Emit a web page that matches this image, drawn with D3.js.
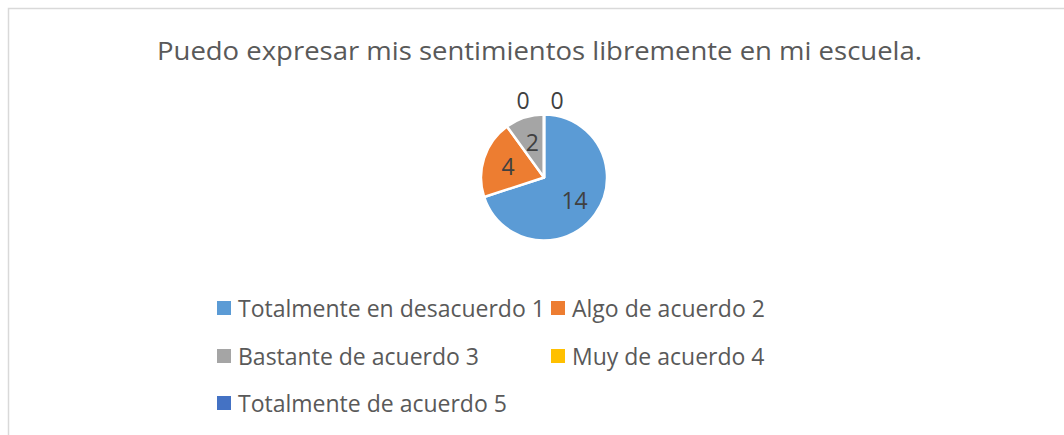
<!DOCTYPE html>
<html>
<head>
<meta charset="utf-8">
<script src="https://cdn.jsdelivr.net/npm/d3@7"></script>
<style>
  body { margin: 0; background: #fff; }
  text { font-family: "Open Sans", "Noto Sans", sans-serif; }
</style>
</head>
<body>
<div class="canvas"></div>
<script>
const title = "Puedo expresar mis sentimientos libremente en mi escuela.";
const categories = [
  "Totalmente en desacuerdo 1",
  "Algo de acuerdo 2",
  "Bastante de acuerdo 3",
  "Muy de acuerdo 4",
  "Totalmente de acuerdo 5"
];
const values = [14, 4, 2, 0, 0];
const colors = ["#5b9bd5", "#ed7d31", "#a5a5a5", "#ffc000", "#4472c4"];

const width = 1064;
const height = 435;

const svg = d3
  .select(".canvas")
  .append("svg")
  .attr("width", width)
  .attr("height", height);

// chart frame
svg
  .append("rect")
  .attr("x", 8.5)
  .attr("y", 8.5)
  .attr("width", width + 20)
  .attr("height", height + 20)
  .attr("fill", "none")
  .attr("stroke", "#d9d9d9")
  .attr("stroke-width", 1.5);

// title
svg
  .append("text")
  .attr("x", 539.5)
  .attr("y", 60)
  .attr("text-anchor", "middle")
  .attr("font-size", 25)
  .attr("fill", "#595959")
  .attr("textLength", 765)
  .attr("lengthAdjust", "spacingAndGlyphs")
  .text(title);

// pie
const radius = 63;
const graph = svg.append("g").attr("transform", "translate(544, 177.5)");

const pie = d3.pie().sort(null).value((d) => d.value);
const arc = d3.arc().innerRadius(0).outerRadius(radius);
const labelArc = d3.arc().innerRadius(radius * 0.6).outerRadius(radius * 0.6);

const data = categories.map((c, i) => ({ name: c, value: values[i], color: colors[i] }));
const arcs = pie(data);

graph
  .selectAll("path")
  .data(arcs)
  .enter()
  .append("path")
  .attr("d", arc)
  .attr("fill", (d) => d.data.color)
  .attr("stroke", "#fff")
  .attr("stroke-width", 2.5)
  .attr("stroke-linejoin", "round");

// data labels
let zeroCount = 0;
graph
  .selectAll("text.label")
  .data(arcs)
  .enter()
  .append("text")
  .attr("class", "label")
  .attr("text-anchor", "middle")
  .attr("dominant-baseline", "central")
  .attr("font-size", 23)
  .attr("fill", "#404040")
  .attr("transform", (d) => {
    if (d.value > 0) return `translate(${labelArc.centroid(d)})`;
    // zero slices sit at the top, pushed outside and apart
    const a = d.startAngle;
    const r = radius + 15;
    const shift = zeroCount++ === 0 ? -21 : 13;
    return `translate(${Math.sin(a) * r + shift}, ${-Math.cos(a) * r})`;
  })
  .text((d) => d.value);

// legend
const legendX = [217, 551];
const legendY = [308, 356, 403];
const legend = svg
  .selectAll("g.legend")
  .data(data)
  .enter()
  .append("g")
  .attr("class", "legend")
  .attr("transform", (d, i) => `translate(${legendX[i % 2]}, ${legendY[Math.floor(i / 2)]})`);

legend
  .append("rect")
  .attr("x", 0)
  .attr("y", -7)
  .attr("width", 14)
  .attr("height", 14)
  .attr("fill", (d) => d.color);

legend
  .append("text")
  .attr("x", 21)
  .attr("y", 0)
  .attr("dominant-baseline", "central")
  .attr("font-size", 23)
  .attr("fill", "#595959")
  .text((d) => d.name);
</script>
</body>
</html>
